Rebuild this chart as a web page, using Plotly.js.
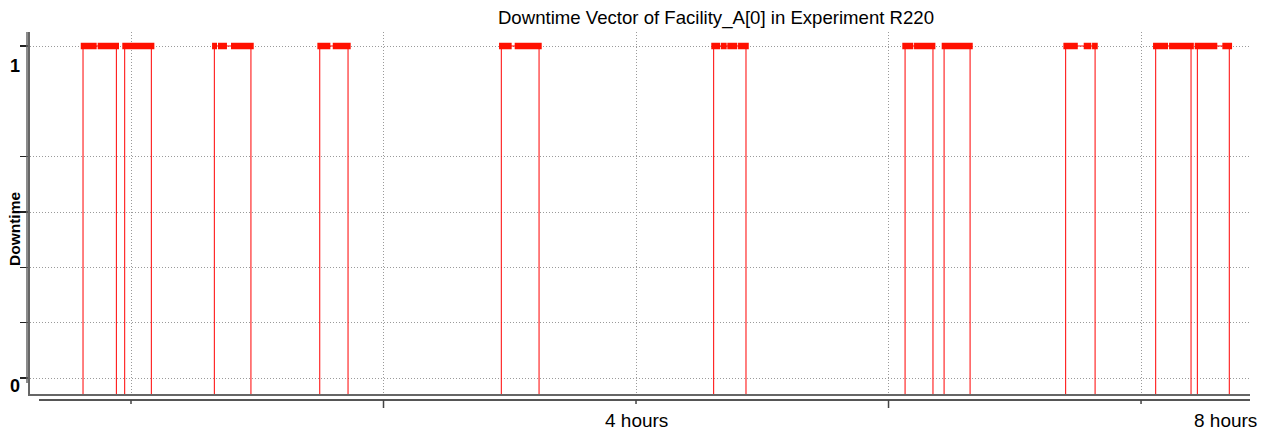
<!DOCTYPE html>
<html>
<head>
<meta charset="utf-8">
<script src="https://cdn.plot.ly/plotly-3.0.1.min.js"></script>
<style>
  html, body { margin: 0; padding: 0; background: #fff; }
  #chart { width: 1263px; height: 430px; }
</style>
</head>
<body>
<div id="chart"></div>
<script>
// ---- data (time in hours) ----
const episodeStart = [-0.380, -0.050, 0.660, 1.495, 2.933, 4.615, 6.131, 6.440, 7.403, 8.116, 8.446];
const episodeEnd   = [-0.116,  0.161, 0.950, 1.719, 3.232, 4.871, 6.352, 6.646, 7.636, 8.396, 8.699];

const barStart = [-0.398, -0.264, -0.069, 0.642, 0.689, 0.792, 1.476, 1.598, 2.915, 3.039,
                  4.596, 4.671, 4.723, 4.808, 6.109, 6.202, 6.421, 7.385, 7.546, 7.612,
                  8.095, 8.222, 8.425, 8.644];
const barEnd   = [-0.272, -0.095, 0.185, 0.681, 0.760, 0.972, 1.579, 1.740, 3.015, 3.253,
                  4.665, 4.718, 4.802, 4.893, 6.196, 6.371, 6.667, 7.499, 7.606, 7.657,
                  8.214, 8.418, 8.604, 8.721];

const downValue = 1;
const xTickHours = [0, 2, 4, 6, 8];
const xTickLong  = [false, true, false, true, false];
const xLabelHours = [4, 8];
const xLabelText  = ['4 hours', '8 hours'];
const yTickVals = [0, 1/6, 1/3, 1/2, 2/3, 1];
const yLabelVals = [1, 0];
const yLabelText = ['1', '0'];

const xRange = [-0.8, 8.863];
const yRange = [-0.0482, 1.0422];

// ---- traces ----
const lx = [], ly = [];
for (let i = 0; i < episodeStart.length; i++) {
  lx.push(episodeStart[i], episodeStart[i], episodeEnd[i], episodeEnd[i], null);
  ly.push(yRange[0], downValue, downValue, yRange[0], null);
}
const bx = [], by = [];
for (let i = 0; i < barStart.length; i++) {
  bx.push(barStart[i], barEnd[i], null);
  by.push(downValue, downValue, null);
}

const traces = [
  { x: lx, y: ly, type: 'scatter', mode: 'lines',
    line: { color: '#ff0000', width: 1 }, hoverinfo: 'skip', showlegend: false, cliponaxis: true },
  { x: bx, y: by, type: 'scatter', mode: 'lines',
    line: { color: '#ff1000', width: 6.5 }, hoverinfo: 'skip', showlegend: false }
];

// ---- decorations ----
const W = 1263, H = 430;
const plotL = 30, plotR = 1250, plotT = 32, plotB = 394;
const pw = plotR - plotL, ph = plotB - plotT;
const py = (pix) => (plotB - pix) / ph;
const px = (pix) => (pix - plotL) / pw;
const FONT = 'Liberation Sans, Arial, sans-serif';

const shapes = [];
// outer y axis line
shapes.push({ type: 'line', xref: 'paper', yref: 'paper', x0: px(27), x1: px(27), y0: py(383), y1: py(32),
  line: { color: '#666', width: 1.5 } });
// second x axis line
shapes.push({ type: 'line', xref: 'paper', yref: 'paper', x0: px(39), x1: 1, y0: py(400), y1: py(400),
  line: { color: '#555', width: 2 } });
xTickHours.forEach((h, i) => {
  shapes.push({ type: 'line', xref: 'x', yref: 'paper', x0: h, x1: h, y0: py(400), y1: py(xTickLong[i] ? 408 : 404),
    line: { color: '#444', width: 1.5 } });
});

const annotations = [];
annotations.push({ text: '<b>Downtime</b>', xref: 'paper', yref: 'paper', x: px(14), y: py(229),
  textangle: -90, showarrow: false, xanchor: 'center', yanchor: 'middle',
  font: { family: FONT, size: 15.5, color: '#000' } });
yLabelVals.forEach((v, i) => {
  annotations.push({ text: '<b>' + yLabelText[i] + '</b>', xref: 'paper', yref: 'y', x: px(15), y: v,
    yshift: v === 1 ? -20 : -8, showarrow: false, xanchor: 'center', yanchor: 'middle',
    font: { family: FONT, size: 18, color: '#000' } });
});
xLabelHours.forEach((h, i) => {
  annotations.push({ text: xLabelText[i], xref: 'x', yref: 'paper', x: h, y: py(420),
    xshift: i === 1 ? 84 : 0, showarrow: false, xanchor: 'center', yanchor: 'middle',
    font: { family: FONT, size: 19, color: '#000' } });
});

const layout = {
  width: W, height: H,
  margin: { l: plotL, r: W - plotR, t: plotT, b: H - plotB, pad: 0 },
  paper_bgcolor: '#fff', plot_bgcolor: '#fff',
  font: { family: FONT },
  title: { text: 'Downtime Vector of Facility_A[0] in Experiment R220',
    xref: 'container', yref: 'container', x: 716 / W, y: 1 - 17 / H, xanchor: 'center', yanchor: 'middle',
    font: { family: FONT, size: 18.6, color: '#000' } },
  xaxis: { range: xRange, tickmode: 'array', tickvals: xTickHours, showticklabels: false, ticks: '',
    showgrid: true, gridcolor: '#9a9a9a', griddash: '1px,2px', gridwidth: 1, zeroline: false,
    showline: true, linecolor: '#666', linewidth: 2, fixedrange: true },
  yaxis: { range: yRange, tickmode: 'array', tickvals: yTickVals, showticklabels: false,
    ticks: 'outside', ticklen: 8, tickwidth: 1.5, tickcolor: '#222',
    showgrid: true, gridcolor: '#9a9a9a', griddash: '1px,2px', gridwidth: 1, zeroline: false,
    showline: true, linecolor: '#666', linewidth: 2, fixedrange: true },
  shapes: shapes,
  annotations: annotations,
  showlegend: false
};

Plotly.newPlot('chart', traces, layout, { displayModeBar: false, staticPlot: true });
</script>
</body>
</html>
